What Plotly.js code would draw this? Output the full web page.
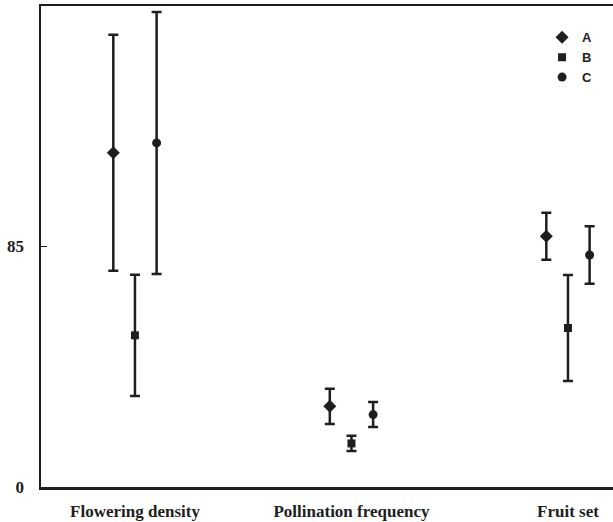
<!DOCTYPE html>
<html>
<head>
<meta charset="utf-8">
<script src="https://cdn.plot.ly/plotly-3.0.1.min.js"></script>
<style>html,body{margin:0;padding:0;background:#fff;}#chart{width:613px;height:522px;}</style>
</head>
<body>
<div id="chart"></div>
<script>
// Categories (x axis)
const categories = ["Flowering density", "Pollination frequency", "Fruit set"];
// Series names
const seriesNames = ["A", "B", "C"];
// Means per series
const meanA = [118.1, 28.5, 88.6];
const meanB = [53.6, 15.4, 56.2];
const meanC = [121.6, 25.6, 82.0];
// Error (± half-range) per series
const errA = [41.7, 6.2, 8.3];
const errB = [21.4, 2.7, 18.7];
const errC = [46.3, 4.4, 10.2];
// Y axis ticks
const yTickVals = [0, 85];
const yTickText = ["0", "85"];

const means = [meanA, meanB, meanC];
const errs = [errA, errB, errC];
const symbols = ["diamond", "square", "circle"];
const sizes = [10, 8, 9];
const ink = "#1e1e1e";

const traces = seriesNames.map((name, i) => ({
  type: "scatter",
  mode: "markers",
  name: name,
  x: categories,
  y: means[i],
  offsetgroup: name,
  marker: { symbol: symbols[i], size: sizes[i], color: ink },
  error_y: { type: "data", array: errs[i], visible: true, color: ink, thickness: 2.5, width: 5 }
}));

const layout = {
  width: 613,
  height: 522,
  margin: { l: 41, r: 0, t: 6, b: 35, pad: 0 },
  paper_bgcolor: "#ffffff",
  plot_bgcolor: "#ffffff",
  scattermode: "group",
  scattergap: 0.7,
  showlegend: true,
  legend: {
    x: 0.876, y: 0.966, xanchor: "left", yanchor: "top",
    font: { family: "Liberation Sans, Arial, sans-serif", size: 13, color: ink, weight: "bold" },
    bgcolor: "rgba(0,0,0,0)", borderwidth: 0, tracegroupgap: 0, itemwidth: 30
  },
  xaxis: {
    type: "category",
    range: [-0.434, 2.208],
    showline: true, linecolor: ink, linewidth: 2.5, mirror: true,
    showgrid: false, zeroline: false, ticks: "",
    ticklabelstandoff: 7,
    tickfont: { family: "Liberation Serif, Times New Roman, serif", size: 17, color: ink, weight: "bold" }
  },
  yaxis: {
    range: [0, 170],
    tickvals: yTickVals, ticktext: yTickText,
    showline: true, linecolor: ink, linewidth: 2.5, mirror: false,
    showgrid: false, zeroline: false,
    ticks: "inside", ticklen: 6, tickwidth: 1, tickcolor: ink,
    ticklabelstandoff: 11,
    tickfont: { family: "Liberation Serif, Times New Roman, serif", size: 17, color: ink, weight: "bold" }
  }
};

Plotly.newPlot("chart", traces, layout, { displayModeBar: false, staticPlot: true });
</script>
</body>
</html>
